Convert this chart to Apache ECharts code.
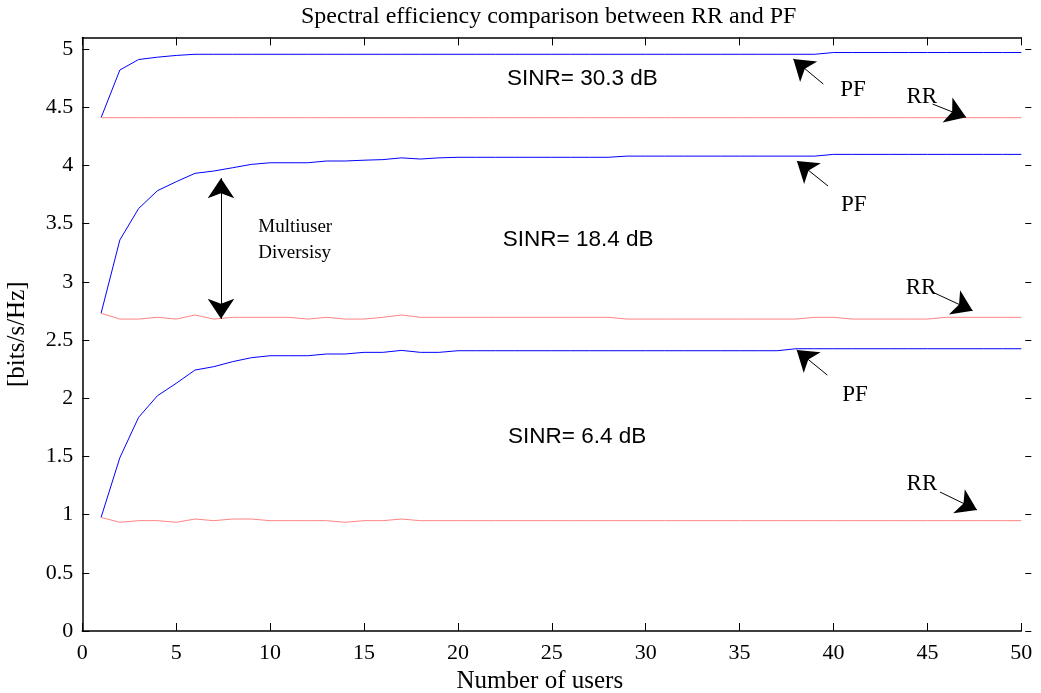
<!DOCTYPE html>
<html>
<head>
<meta charset="utf-8">
<title>Spectral efficiency comparison between RR and PF</title>
<script src="https://cdn.jsdelivr.net/npm/echarts@6/dist/echarts.min.js"></script>
<style>
    html, body { margin: 0; padding: 0; background: #fff; }
    #chart { width: 1041px; height: 693px; }
</style>
</head>
<body>
<div id="chart"></div>
<script>
// number of users (x)
var users = [1, 2, 3, 4, 5, 6, 7, 8, 9, 10, 11, 12, 13, 14, 15, 16, 17, 18, 19, 20,
    21, 22, 23, 24, 25, 26, 27, 28, 29, 30, 31, 32, 33, 34, 35, 36, 37, 38, 39, 40,
    41, 42, 43, 44, 45, 46, 47, 48, 49, 50];

// SINR = 30.3 dB
var pf30 = [4.41, 4.82, 4.91, 4.93, 4.945, 4.955, 4.955, 4.955, 4.955, 4.955,
    4.955, 4.955, 4.955, 4.955, 4.955, 4.955, 4.955, 4.955, 4.955, 4.955,
    4.955, 4.955, 4.955, 4.955, 4.955, 4.955, 4.955, 4.955, 4.955, 4.955,
    4.955, 4.955, 4.955, 4.955, 4.955, 4.955, 4.955, 4.955, 4.955, 4.97,
    4.97, 4.97, 4.97, 4.97, 4.97, 4.97, 4.97, 4.97, 4.97, 4.97];
var rr30 = [4.41, 4.41, 4.41, 4.41, 4.41, 4.41, 4.41, 4.41, 4.41, 4.41,
    4.41, 4.41, 4.41, 4.41, 4.41, 4.41, 4.41, 4.41, 4.41, 4.41,
    4.41, 4.41, 4.41, 4.41, 4.41, 4.41, 4.41, 4.41, 4.41, 4.41,
    4.41, 4.41, 4.41, 4.41, 4.41, 4.41, 4.41, 4.41, 4.41, 4.41,
    4.41, 4.41, 4.41, 4.41, 4.41, 4.41, 4.41, 4.41, 4.41, 4.41];

// SINR = 18.4 dB
var pf18 = [2.73, 3.36, 3.63, 3.783, 3.86, 3.932, 3.952, 3.98, 4.009, 4.023,
    4.023, 4.023, 4.038, 4.038, 4.045, 4.05, 4.065, 4.055, 4.065, 4.07,
    4.07, 4.07, 4.07, 4.07, 4.07, 4.07, 4.07, 4.07, 4.08, 4.08,
    4.08, 4.08, 4.08, 4.08, 4.08, 4.08, 4.08, 4.08, 4.08, 4.095,
    4.095, 4.095, 4.095, 4.095, 4.095, 4.095, 4.095, 4.095, 4.095, 4.095];
var rr18 = [2.73, 2.68, 2.68, 2.695, 2.68, 2.715, 2.68, 2.695, 2.695, 2.695,
    2.695, 2.68, 2.695, 2.68, 2.68, 2.695, 2.715, 2.695, 2.695, 2.695,
    2.695, 2.695, 2.695, 2.695, 2.695, 2.695, 2.695, 2.695, 2.68, 2.68,
    2.68, 2.68, 2.68, 2.68, 2.68, 2.68, 2.68, 2.68, 2.695, 2.695,
    2.68, 2.68, 2.68, 2.68, 2.68, 2.695, 2.695, 2.695, 2.695, 2.695];

// SINR = 6.4 dB
var pf6 = [0.976, 1.489, 1.836, 2.021, 2.128, 2.242, 2.271, 2.314, 2.348, 2.365,
    2.365, 2.365, 2.38, 2.38, 2.394, 2.394, 2.411, 2.394, 2.394, 2.408,
    2.408, 2.408, 2.408, 2.408, 2.408, 2.408, 2.408, 2.408, 2.408, 2.408,
    2.408, 2.408, 2.408, 2.408, 2.408, 2.408, 2.408, 2.425, 2.425, 2.425,
    2.425, 2.425, 2.425, 2.425, 2.425, 2.425, 2.425, 2.425, 2.425, 2.425];
var rr6 = [0.976, 0.934, 0.948, 0.948, 0.934, 0.962, 0.948, 0.962, 0.962, 0.948,
    0.948, 0.948, 0.948, 0.934, 0.948, 0.948, 0.962, 0.948, 0.948, 0.948,
    0.948, 0.948, 0.948, 0.948, 0.948, 0.948, 0.948, 0.948, 0.948, 0.948,
    0.948, 0.948, 0.948, 0.948, 0.948, 0.948, 0.948, 0.948, 0.948, 0.948,
    0.948, 0.948, 0.948, 0.948, 0.948, 0.948, 0.948, 0.948, 0.948, 0.948];

// tick labels
var xTicks = [0, 5, 10, 15, 20, 25, 30, 35, 40, 45, 50];
var yTicks = [0, 0.5, 1, 1.5, 2, 2.5, 3, 3.5, 4, 4.5, 5];

// text notes in data coordinates
var sinrNotes = [
    {text: 'SINR= 30.3 dB', at: [26.63, 4.748]},
    {text: 'SINR= 18.4 dB', at: [26.4, 3.359]},
    {text: 'SINR= 6.4 dB', at: [26.35, 1.667]}
];
var tagNotes = [
    {text: 'PF', at: [41.04, 4.648]},
    {text: 'RR', at: [44.70, 4.590]},
    {text: 'PF', at: [41.08, 3.660]},
    {text: 'RR', at: [44.66, 2.947]},
    {text: 'PF', at: [41.15, 2.027]},
    {text: 'RR', at: [44.71, 1.267]}
];
// arrows: [tail, head]
var arrows = [
    [[39.46, 4.699], [37.86, 4.914]],
    [[45.28, 4.527], [47.06, 4.413]],
    [[39.71, 3.823], [38.05, 4.038]],
    [[45.23, 2.915], [47.41, 2.752]],
    [[39.67, 2.199], [38.04, 2.414]],
    [[45.67, 1.194], [47.64, 1.040]]
];
var diversityArrow = [[7.385, 3.89], [7.385, 2.682]];

var serif = '"Liberation Serif", "Times New Roman", serif';
var sans = '"Liberation Sans", Arial, sans-serif';
var BLUE = '#0000ff';
var RED = '#ff8484';

function pairs(ys) {
    var out = [];
    for (var i = 0; i < users.length; i++) {
        out.push([users[i], ys[i]]);
    }
    return out;
}

function curve(name, ys, color) {
    return {
        name: name,
        type: 'line',
        data: pairs(ys),
        showSymbol: false,
        symbol: 'none',
        lineStyle: {color: color, width: 1},
        itemStyle: {color: color},
        silent: true,
        z: 2
    };
}

function noteSeries(notes, font, size, align) {
    return {
        type: 'scatter',
        symbolSize: 0,
        silent: true,
        itemStyle: {opacity: 1},
        data: notes.map(function (n) { return {value: n.at, name: n.text}; }),
        label: {
            show: true,
            position: 'inside',
            formatter: '{b}',
            color: '#000',
            fontFamily: font,
            fontSize: size,
            align: align || 'center',
            lineHeight: 26
        },
        z: 5
    };
}

var myChart = echarts.init(document.getElementById('chart'), null, {renderer: 'canvas'});

var option = {
    backgroundColor: '#fff',
    animation: false,
    title: {
        text: 'Spectral efficiency comparison between RR and PF',
        left: 296,
        top: 0,
        textStyle: {fontFamily: serif, fontSize: 24, fontWeight: 'normal', color: '#000'}
    },
    grid: {left: 82.3, right: 19.7, top: 37.4, bottom: 62, containLabel: false, outerBoundsMode: 'none'},
    xAxis: [{
        type: 'value',
        min: 0, max: 50, interval: 5,
        position: 'bottom',
        name: 'Number of users',
        nameLocation: 'middle',
        nameGap: 38,
        nameTextStyle: {fontFamily: serif, fontSize: 25, color: '#000', padding: [0, 24, 0, 0]},
        axisLine: {show: true, onZero: false, lineStyle: {color: '#000', width: 1.5}},
        axisTick: {show: true, inside: true, length: 8, customValues: xTicks, lineStyle: {color: '#000'}},
        axisLabel: {fontFamily: serif, fontSize: 22, color: '#000', margin: 11, customValues: xTicks},
        splitLine: {show: false}
    }, {
        type: 'value',
        min: 0, max: 50, interval: 5,
        position: 'top',
        axisLine: {show: true, onZero: false, lineStyle: {color: '#000', width: 1.5}},
        axisTick: {show: true, inside: true, length: 8, customValues: xTicks, lineStyle: {color: '#000'}},
        axisLabel: {show: false},
        splitLine: {show: false}
    }],
    yAxis: [{
        type: 'value',
        min: 0, max: 5.1,
        position: 'left',
        name: '[bits/s/Hz]',
        nameLocation: 'middle',
        nameGap: 52,
        nameTextStyle: {fontFamily: serif, fontSize: 25, color: '#000'},
        axisLine: {show: true, onZero: false, lineStyle: {color: '#000', width: 1.5}},
        axisTick: {show: true, inside: true, length: 7, customValues: yTicks, lineStyle: {color: '#000'}},
        axisLabel: {fontFamily: serif, fontSize: 22, color: '#000', margin: 9, customValues: yTicks},
        splitLine: {show: false}
    }, {
        type: 'value',
        min: 0, max: 5.1,
        position: 'right',
        offset: 10,
        axisLine: {show: false, onZero: false},
        axisTick: {show: true, inside: true, length: 6, customValues: yTicks, lineStyle: {color: '#000'}},
        axisLabel: {show: false},
        splitLine: {show: false}
    }],
    series: [
        curve('PF 30.3 dB', pf30, BLUE),
        curve('RR 30.3 dB', rr30, RED),
        curve('PF 18.4 dB', pf18, BLUE),
        curve('RR 18.4 dB', rr18, RED),
        curve('PF 6.4 dB', pf6, BLUE),
        curve('RR 6.4 dB', rr6, RED),
        {
            type: 'lines',
            coordinateSystem: 'cartesian2d',
            silent: true,
            symbol: ['none', 'arrow'],
            symbolSize: 20,
            lineStyle: {color: '#000', width: 1, opacity: 1},
            data: arrows.map(function (a) { return {coords: a}; }),
            z: 4
        },
        {
            type: 'lines',
            coordinateSystem: 'cartesian2d',
            silent: true,
            symbol: ['arrow', 'arrow'],
            symbolSize: 20,
            lineStyle: {color: '#000', width: 1, opacity: 1},
            data: [{coords: diversityArrow}],
            z: 4
        },
        noteSeries(sinrNotes, sans, 22.5),
        noteSeries(tagNotes, serif, 23),
        noteSeries([{text: 'Multiuser\nDiversisy', at: [9.37, 3.359]}], serif, 19, 'left')
    ]
};

myChart.setOption(option);
</script>
</body>
</html>
